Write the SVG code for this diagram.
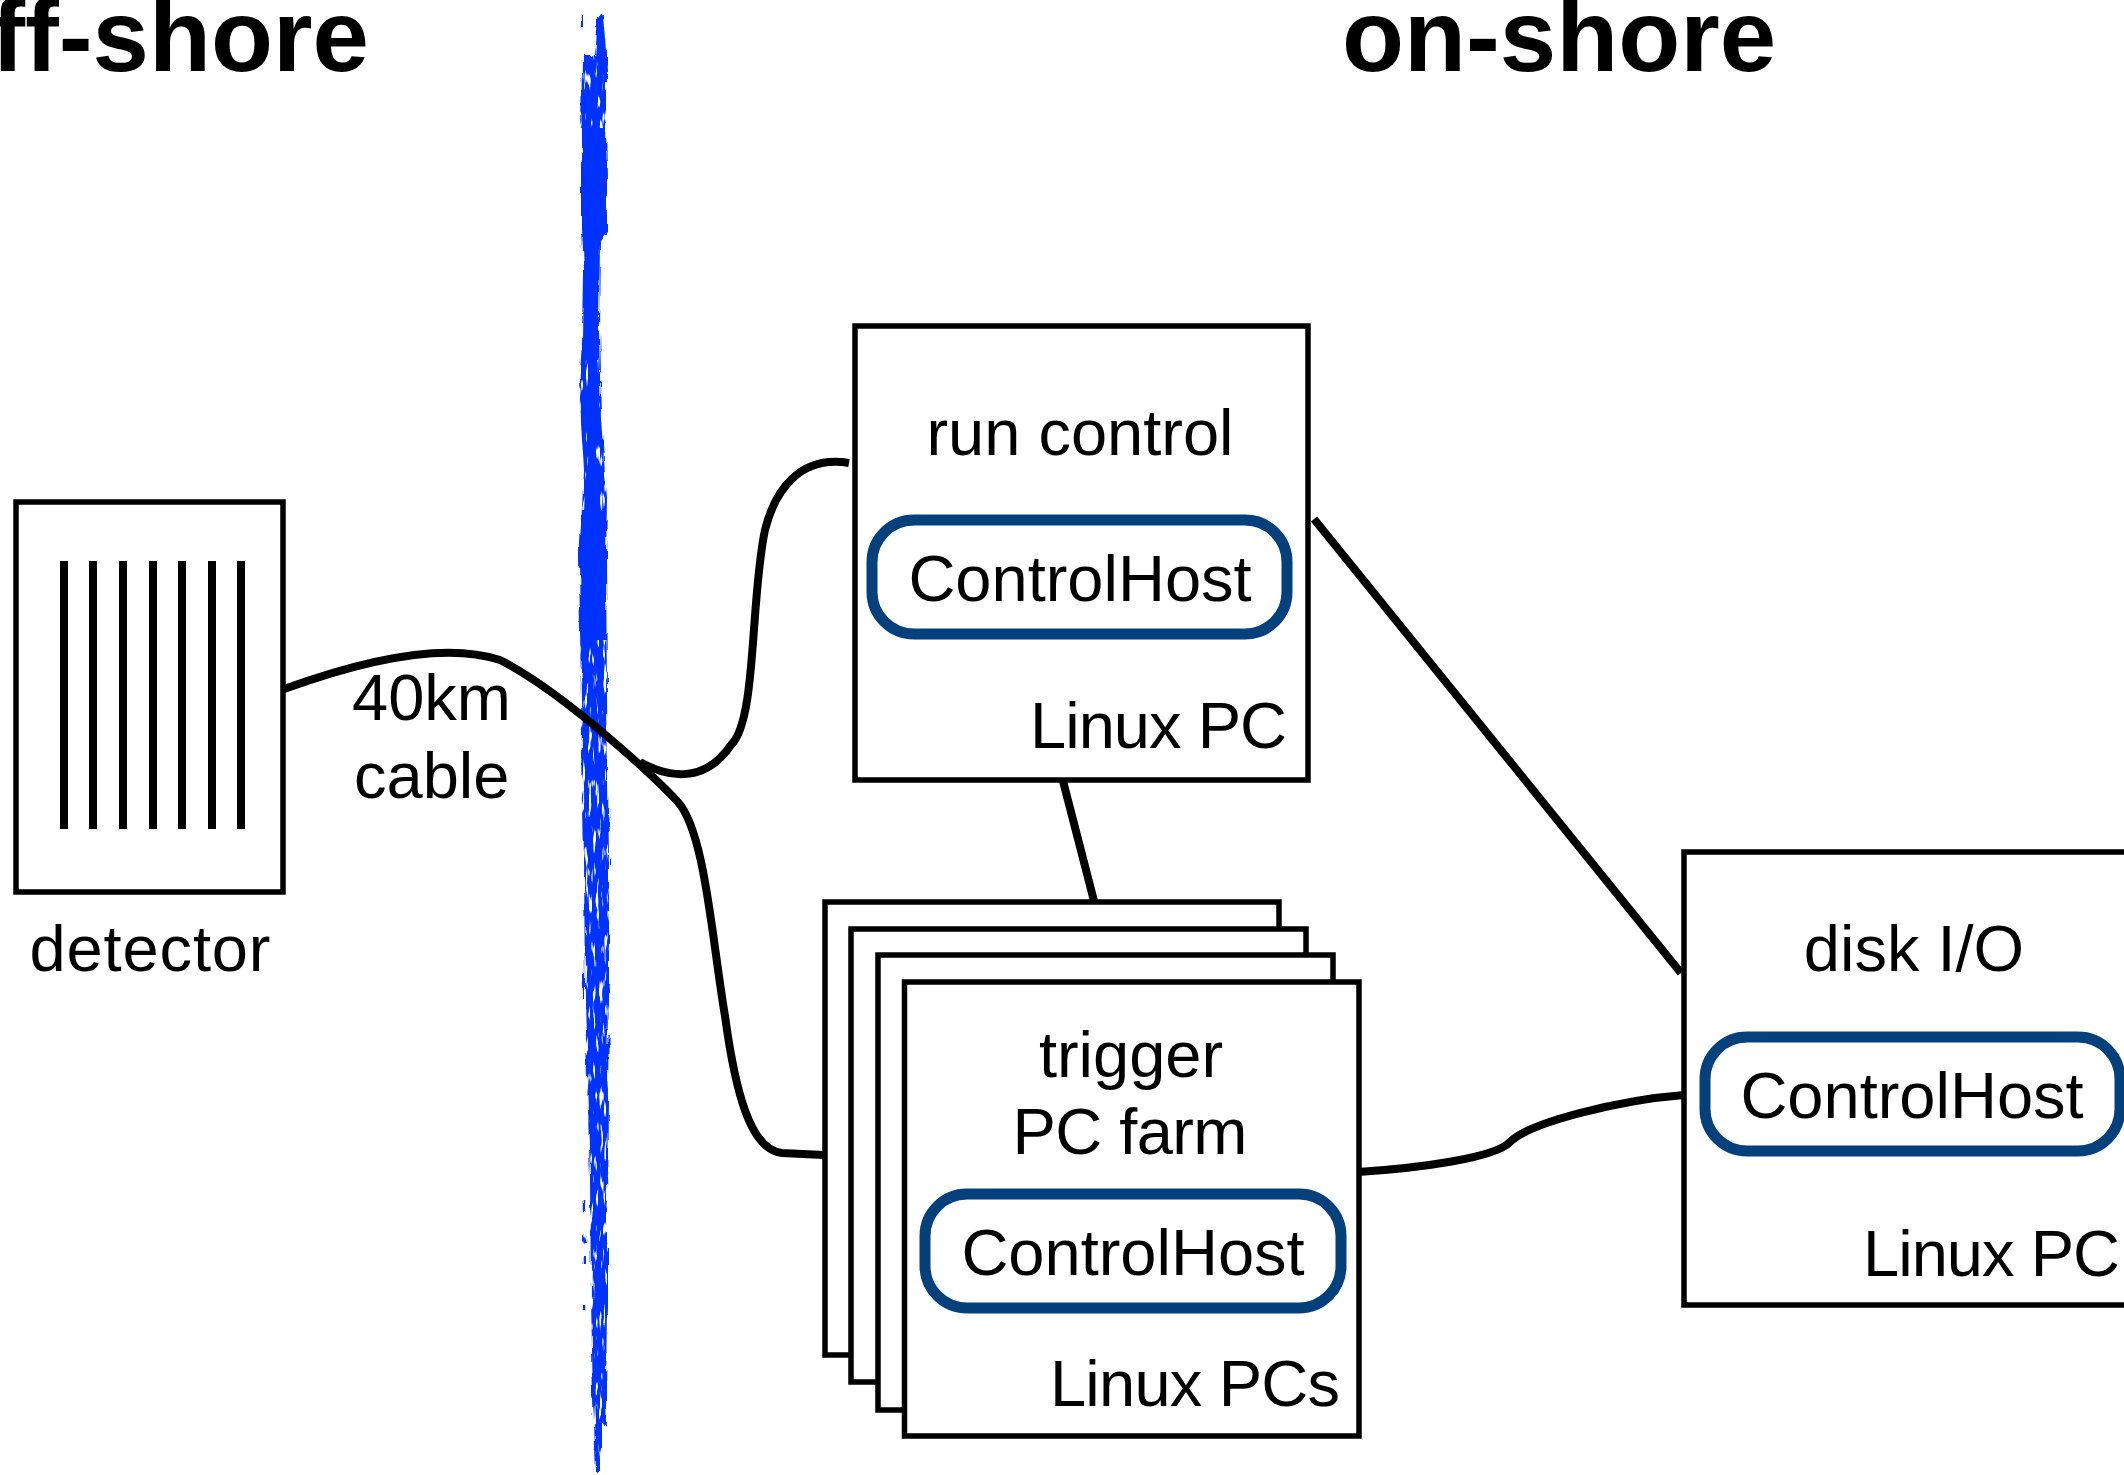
<svg xmlns="http://www.w3.org/2000/svg" width="2124" height="1475" viewBox="0 0 2124 1475">
<style>
text{font-family:"Liberation Sans",Arial,sans-serif;font-size:65px;fill:#000}
.h{font-weight:700;font-size:101.5px}
.m{text-anchor:middle}
.e{text-anchor:end}
.box{fill:#fff;stroke:#000;stroke-width:5.5}
.pill{fill:#fff;stroke:#04407c;stroke-width:11}
.bar{stroke:#000;stroke-width:8}
.c{fill:none;stroke:#000;stroke-width:8}
</style>
<defs>
<filter id="rough" x="-100%" y="-2%" width="300%" height="104%">
<feTurbulence type="fractalNoise" baseFrequency="0.2 0.03" numOctaves="3" seed="4" result="n"/>
<feDisplacementMap in="SourceGraphic" in2="n" scale="7" xChannelSelector="R" yChannelSelector="G"/>
</filter>
<filter id="holes" x="0" y="0" width="100%" height="100%">
<feTurbulence type="fractalNoise" baseFrequency="0.28 0.045" numOctaves="2" seed="9" result="n"/>
<feColorMatrix in="n" type="matrix" values="0 0 0 0 0 0 0 0 0 0 0 0 0 0 0 9 0 0 0 -5.3" result="m"/>
<feComposite in="SourceGraphic" in2="m" operator="in"/>
</filter>
</defs>
<rect width="2124" height="1475" fill="#fff"/>
<g id="band">
<g filter="url(#rough)" fill="#0433ff">
<path d="M598,18 L603,16 L606,50 L606,120 L607,180 L607,232 L600,240 L599,330 L601,420 L607,500 L606,560 L607,700 L609,860 L609,1000 L608,1100 L607,1200 L607,1300 L606,1400 L607,1428 L601,1420 L601,1472 L596,1472 L593,1400 L591,1300 L590,1180 L587,1080 L585,1000 L584,860 L581,700 L579,560 L584,470 L579,390 L582,340 L583,270 L581,230 L581,130 L582,55 L595,55 Z"/>
<path d="M582,15 v14" stroke="#0433ff" stroke-width="2.5" fill="none"/>
<path d="M585,1200 v12 M584,1236 l2,6 M585,1255 v8 M585,1305 v6" stroke="#0433ff" stroke-width="2.5" fill="none"/>
</g>
<g filter="url(#holes)" fill="#fff">
<rect x="576" y="48" width="36" height="80"/>
<rect x="576" y="360" width="12" height="150"/>
<rect x="596" y="360" width="14" height="150"/>
<rect x="576" y="640" width="36" height="540"/>
<rect x="576" y="1180" width="36" height="295"/>
<rect x="576" y="1240" width="36" height="235"/>
</g>
</g>
<text class="h e" x="369" y="71">off-shore</text>
<text class="h m" x="1559" y="71">on-shore</text>
<g id="connectors">
<path class="c" d="M284,689 C350,665 440,640 500,660 C540,680 590,720 640,765 C652,776 665,788 677,801 C705,830 712,940 725,1016 C735,1090 750,1150 782,1153 L824,1155"/>
<path class="c" d="M640,762 C665,776 703,786 731,745 C757,720 750,600 765,530 C775,490 800,455 849,463"/>
<path class="c" d="M1063,781 L1094,901"/>
<path class="c" d="M1314,519 L1681,973"/>
<path class="c" d="M1358,1172 C1420,1168 1495,1158 1510,1142 C1530,1122 1620,1100 1684,1095"/>
</g>
<g id="detector">
<rect class="box" x="16" y="502" width="267" height="390"/>
<path class="bar" d="M64,561V829M93,561V829M123,561V829M153,561V829M182,561V829M212,561V829M241,561V829"/>
<text class="m" x="150" y="971" textLength="241">detector</text>
</g>
<text x="352" y="720">40km</text>
<text x="354" y="798">cable</text>
<g id="run-control">
<rect class="box" x="855" y="326" width="453" height="454"/>
<text class="m" x="1080" y="455">run control</text>
<rect class="pill" x="872" y="520" width="415" height="114" rx="42"/>
<text class="m" x="1080" y="601">ControlHost</text>
<text class="e" x="1287" y="748" textLength="257">Linux PC</text>
</g>
<g id="trigger-farm">
<rect class="box" x="825" y="902" width="454" height="453"/>
<rect class="box" x="851" y="929" width="455" height="453"/>
<rect class="box" x="878" y="955" width="455" height="455"/>
<rect class="box" x="904.5" y="982" width="454.5" height="454"/>
<text class="m" x="1131" y="1077">trigger</text>
<text class="m" x="1130" y="1154" textLength="235">PC farm</text>
<rect class="pill" x="925" y="1194" width="416" height="114" rx="42"/>
<text class="m" x="1133" y="1275">ControlHost</text>
<text class="e" x="1340" y="1406" textLength="290">Linux PCs</text>
</g>
<g id="disk-io">
<rect class="box" x="1684" y="852" width="460" height="453"/>
<text class="m" x="1914" y="971">disk I/O</text>
<rect class="pill" x="1705" y="1037" width="415" height="114" rx="42"/>
<text class="m" x="1912" y="1118">ControlHost</text>
<text class="e" x="2120" y="1276" textLength="257">Linux PC</text>
</g>
</svg>
